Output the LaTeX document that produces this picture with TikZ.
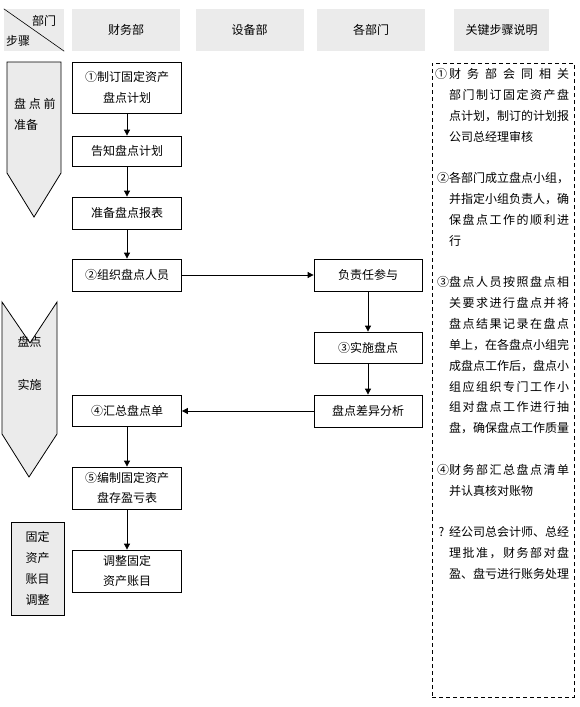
\documentclass[tikz,border=0pt]{standalone}
\usepackage{fontspec}
\setmainfont{Noto Sans CJK SC}
\usetikzlibrary{arrows.meta}
\definecolor{headgray}{HTML}{EBEBEB}
\makeatletter
% one justified line of the key notes
\newcommand\jline[1]{\hbox to 120pt{\@tfor\jchar:=#1\do{\jchar\hfil}\unskip}}
\makeatother

\begin{document}
\begin{tikzpicture}
[
    x=1pt, y=-1pt,
    font=\fontsize{12}{20.8}\selectfont,
    head/.style={fill=headgray, minimum width=108pt, minimum height=42pt, inner sep=0pt},
    box/.style={draw, line width=0.8pt, minimum width=109pt, minimum height=31pt, align=center, inner sep=0pt},
    stage/.style={draw, line width=0.8pt, fill=headgray},
    link/.style={line width=0.8pt, -{Triangle[width=6pt,length=6pt]}},
    note/.style={anchor=west, inner sep=0pt},
]
\useasboundingbox (0,0) rectangle (579,707);

% header row
\node[head, minimum width=60pt] (corner) at (34,30) {};
\draw[line width=0.6pt] (corner.north west) -- (corner.south east);
\node[inner sep=0pt] (dept) at (44,21) {部门};
\node[inner sep=0pt] (steps) at (18,41) {步骤};
\node[head] (finance) at (126,30) {\raisebox{2pt}{财务部}};
\node[head] (equip) at (249.5,30) {\raisebox{2pt}{设备部}};
\node[head] (alldept) at (371,30) {\raisebox{2pt}{各部门}};
\node[head, minimum width=95pt] (keyhead) at (501.5,30) {\raisebox{2pt}{关键步骤说明}};

% stages
\draw[stage] (7,62) -- (61,62) -- (61,173) -- (34,217) -- (7,173) -- cycle;
\node[note, align=left] (prep) at (14,114.5) {盘 点 前\\准备};
\draw[stage] (2,302) -- (30,343) -- (57,302) -- (57,434) -- (29,477) -- (2,434) -- cycle;
\node[inner sep=0pt] (act1) at (29.5,342) {盘点};
\node[inner sep=0pt] (act2) at (29.5,385) {实施};
\node[stage, minimum width=53pt, minimum height=93pt, align=center, inner sep=0pt] (adjust) at (37.5,568.5) {固定\\资产\\账目\\调整};

% flow
\node[box, minimum height=51pt] (plan) at (127,87.5) {①制订固定资产\\盘点计划};
\node[box, minimum height=30pt] (notify) at (127,151) {告知盘点计划};
\node[box, minimum height=32pt] (sheet) at (127,213) {准备盘点报表};
\node[box, minimum height=32pt] (staff) at (127,275) {②组织盘点人员};
\node[box, minimum width=108pt, minimum height=32pt] (duty) at (368,275) {负责任参与};
\node[box, minimum width=108pt] (count) at (368,347.5) {③实施盘点};
\node[box, minimum width=108pt, minimum height=32pt] (diff) at (368,411) {盘点差异分析};
\node[box] (sum) at (127,411) {④汇总盘点单};
\node[box, minimum height=42pt] (report) at (127,488) {⑤编制固定资产\\盘存盈亏表};
\node[box, minimum height=42pt] (ledger) at (127,571) {调整固定\\资产账目};

\draw[link] (plan) -- (notify);
\draw[link] (notify) -- (sheet);
\draw[link] (sheet) -- (staff);
\draw[link] (staff) -- (duty);
\draw[link] (duty) -- (count);
\draw[link] (count) -- (diff);
\draw[link] (diff) -- (sum);
\draw[link] (sum) -- (report);
\draw[link] (report) -- (ledger);

% key notes
\node[draw, line width=0.8pt, dash pattern=on 4pt off 3pt, minimum width=142pt, minimum height=634pt, inner sep=0pt] (keys) at (503,380) {};
\foreach \i/\t in {
    0/{\llap{①\hspace{2pt}}\jline{财务部会同相关}},
    1/{\jline{部门制订固定资产盘}},
    2/{\jline{点计划，制订的计划报}},
    3/{公司总经理审核},
    5/{\llap{②}\jline{各部门成立盘点小组，}},
    6/{\jline{并指定小组负责人，确}},
    7/{\jline{保盘点工作的顺利进}},
    8/{行},
    10/{\llap{③}\jline{盘点人员按照盘点相}},
    11/{\jline{关要求进行盘点并将}},
    12/{\jline{盘点结果记录在盘点}},
    13/{\jline{单上，在各盘点小组完}},
    14/{\jline{成盘点工作后，盘点小}},
    15/{\jline{组应组织专门工作小}},
    16/{\jline{组对盘点工作进行抽}},
    17/{\jline{盘，确保盘点工作质量}},
    19/{\llap{④}\jline{财务部汇总盘点清单}},
    20/{并认真核对账物},
    22/{\llap{?\hspace{5pt}}\jline{经公司总会计师、总经}},
    23/{\jline{理批准，财务部对盘}},
    24/{\jline{盈、盘亏进行账务处理}}}
    \node[note] (line\i) at (449,{74+20.83*\i}) {\t};
\end{tikzpicture}
\end{document}
